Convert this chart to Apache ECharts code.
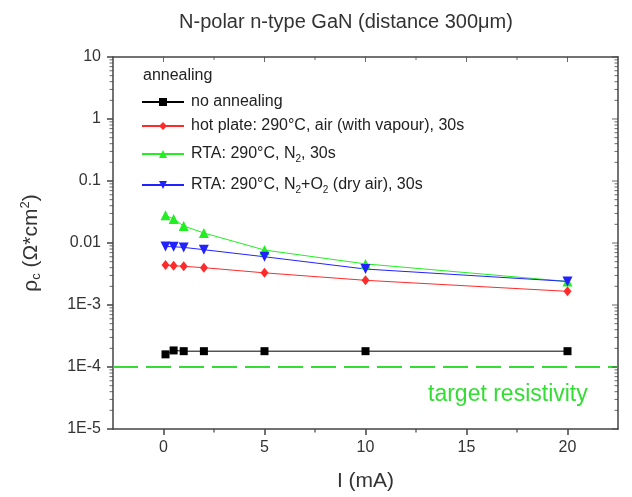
<!DOCTYPE html>
<html>
<head>
<meta charset="utf-8">
<script src="https://cdn.jsdelivr.net/npm/echarts@6/dist/echarts.min.js"></script>
<style>
  html, body { margin: 0; padding: 0; background: #fff; }
  #chart { width: 632px; height: 497px; }
</style>
</head>
<body>
<div id="chart"></div>
<script>
// current values (mA)
const currents = [0.1, 0.5, 1, 2, 5, 10, 20];

// contact resistivity (Ohm*cm^2)
const noAnnealing = [1.6e-4, 1.85e-4, 1.8e-4, 1.8e-4, 1.8e-4, 1.8e-4, 1.8e-4];
const hotPlate = [0.0044, 0.0043, 0.0042, 0.0040, 0.0033, 0.0025, 0.00166];
const rtaN2 = [0.028, 0.0244, 0.0188, 0.0145, 0.0077, 0.0046, 0.0024];
const rtaDryAir = [0.0088, 0.0087, 0.0085, 0.0078, 0.0060, 0.0038, 0.0024];

const targetResistivity = 1e-4;

const xMin = -2.5, xMax = 22.5;
const xMajorTicks = [0, 5, 10, 15, 20];
const xMinorTicks = [2.5, 7.5, 12.5, 17.5];
const yMin = 1e-5, yMax = 10;
const yDecades = [1e-5, 1e-4, 1e-3, 1e-2, 0.1, 1, 10];
const yTickLabels = { '1': '10', '0': '1', '-1': '0.1', '-2': '0.01', '-3': '1E-3', '-4': '1E-4', '-5': '1E-5' };

// minor ticks 2..9 of every decade
const yMinorTicks = [];
for (let e = -5; e < 1; e++) {
  for (let m = 2; m <= 9; m++) yMinorTicks.push(m * Math.pow(10, e));
}

const chart = echarts.init(document.getElementById('chart'));

const colors = {
  black: '#000000',
  red: '#ff2a2a',
  green: '#22ee22',
  blue: '#2222ff',
  target: '#33dd33',
  axis: '#444444',
  text: '#333333'
};

const FONT = 'Liberation Sans';
const pairs = ys => currents.map((x, i) => [x, ys[i]]);

const subRich = {
  t: { fontSize: 16, color: '#222', fontFamily: FONT },
  s: { fontSize: 10, color: '#222', fontFamily: FONT, padding: [10, 0, 0, 0] }
};

const labels = {
  'no annealing': '{t|no annealing}',
  'hot plate': '{t|hot plate: 290°C, air (with vapour), 30s}',
  'RTA N2': '{t|RTA: 290°C, N}{s|2}{t|, 30s}',
  'RTA N2O2': '{t|RTA: 290°C, N}{s|2}{t|+O}{s|2}{t| (dry air), 30s}'
};

function legendAt(name, top) {
  return {
    data: [name],
    left: 141,
    top: top,
    itemWidth: 42,
    itemHeight: 10,
    itemGap: 0,
    padding: 0,
    selectedMode: false,
    textStyle: { fontSize: 16, color: '#222', fontFamily: FONT, rich: subRich, padding: [0, 0, 0, 2] },
    formatter: n => labels[n]
  };
}

// tick marks drawn as small rect symbols placed through the axes
function tickMarks(points, size, offset) {
  return {
    type: 'scatter', silent: true, clip: false, animation: false,
    symbol: 'rect', symbolSize: size, symbolOffset: offset,
    itemStyle: { color: colors.axis },
    data: points, z: 5
  };
}

const axisText = { color: colors.text, fontSize: 16, fontFamily: FONT };
const frameLine = { show: true, onZero: false, lineStyle: { color: colors.axis, width: 1.5 } };

const option = {
  backgroundColor: '#fff',
  animation: false,
  title: {
    text: 'N-polar n-type GaN (distance 300\u03bcm)',
    left: 341,
    textAlign: 'center',
    top: 7,
    textStyle: { fontSize: 20, fontWeight: 'normal', color: colors.text, fontFamily: FONT }
  },
  grid: { left: 113, right: 14, top: 57, bottom: 66, show: false },
  legend: [
    legendAt('no annealing', 94),
    legendAt('hot plate', 118),
    legendAt('RTA N2', 146),
    legendAt('RTA N2O2', 177)
  ],
  xAxis: [
    {
      type: 'value', min: xMin, max: xMax, position: 'bottom',
      name: 'I (mA)', nameLocation: 'middle', nameGap: 42,
      nameTextStyle: { fontSize: 21, color: colors.text, fontFamily: FONT },
      axisLine: frameLine,
      axisTick: { show: true, length: 6, customValues: xMajorTicks, lineStyle: { color: colors.axis, width: 1.5 } },
      axisLabel: { customValues: xMajorTicks, margin: 11, ...axisText },
      splitLine: { show: false }
    },
    {
      type: 'value', min: xMin, max: xMax, position: 'top',
      axisLine: frameLine,
      axisTick: { show: false },
      axisLabel: { show: false },
      splitLine: { show: false }
    }
  ],
  yAxis: [
    {
      type: 'log', logBase: 10, min: yMin, max: yMax, position: 'left',
      name: '{r|\u03c1}{s|c}{r| (\u03a9*cm}{p|2}{r|)}',
      nameLocation: 'middle', nameGap: 70, nameRotate: 90,
      nameTextStyle: {
        rich: {
          r: { fontSize: 21, color: colors.text, fontFamily: FONT },
          s: { fontSize: 13, color: colors.text, fontFamily: FONT, padding: [11, 0, 0, 0] },
          p: { fontSize: 13, color: colors.text, fontFamily: FONT, padding: [0, 0, 11, 0] }
        }
      },
      axisLine: frameLine,
      axisTick: { show: true, length: 6, lineStyle: { color: colors.axis, width: 1.5 } },
      axisLabel: {
        margin: 12,
        ...axisText,
        formatter: v => yTickLabels[String(Math.round(Math.log10(v)))] || ''
      },
      splitLine: { show: false }
    },
    {
      type: 'log', logBase: 10, min: yMin, max: yMax, position: 'right',
      axisLine: frameLine,
      axisTick: { show: false },
      axisLabel: { show: false },
      splitLine: { show: false }
    }
  ],
  graphic: [
    {
      type: 'text', left: 143, top: 68,
      style: { text: 'annealing', fontSize: 16, fill: '#222', fontFamily: FONT }
    },
    {
      type: 'text', left: 428, top: 383,
      style: { text: 'target resistivity', fontSize: 23, fill: colors.target, fontFamily: FONT }
    }
  ],
  series: [
    {
      name: 'target', type: 'line', silent: true, symbol: 'none',
      data: [[xMin, targetResistivity], [xMax, targetResistivity]],
      lineStyle: { color: colors.target, width: 2, type: [25, 8] },
      z: 1
    },
    {
      name: 'no annealing', type: 'line', data: pairs(noAnnealing),
      symbol: 'rect', symbolSize: 8,
      lineStyle: { color: colors.black, width: 1 },
      itemStyle: { color: colors.black }
    },
    {
      name: 'hot plate', type: 'line', data: pairs(hotPlate),
      symbol: 'diamond', symbolSize: [8, 10],
      lineStyle: { color: colors.red, width: 1 },
      itemStyle: { color: colors.red }
    },
    {
      name: 'RTA N2', type: 'line', data: pairs(rtaN2),
      symbol: 'triangle', symbolSize: 10,
      lineStyle: { color: colors.green, width: 1 },
      itemStyle: { color: colors.green }
    },
    {
      name: 'RTA N2O2', type: 'line', data: pairs(rtaDryAir),
      symbol: 'triangle', symbolRotate: 180, symbolSize: 10,
      lineStyle: { color: colors.blue, width: 1 },
      itemStyle: { color: colors.blue }
    },
    // frame ticks
    tickMarks(yMinorTicks.map(v => [xMin, v]), [3.5, 1], [-1.75, 0]),
    tickMarks(yMinorTicks.map(v => [xMax, v]), [3.5, 1], [-1.75, 0]),
    tickMarks(yDecades.map(v => [xMax, v]), [6, 1], [-3, 0]),
    tickMarks(xMinorTicks.map(x => [x, yMin]), [1.5, 3.5], [0, 1.75]),
    tickMarks(xMajorTicks.map(x => [x, yMax]), [1, 5], [0, 2.5]),
    tickMarks(xMinorTicks.map(x => [x, yMax]), [1, 3], [0, 1.5])
  ]
};

chart.setOption(option);
window.addEventListener('resize', () => chart.resize());
</script>
</body>
</html>
